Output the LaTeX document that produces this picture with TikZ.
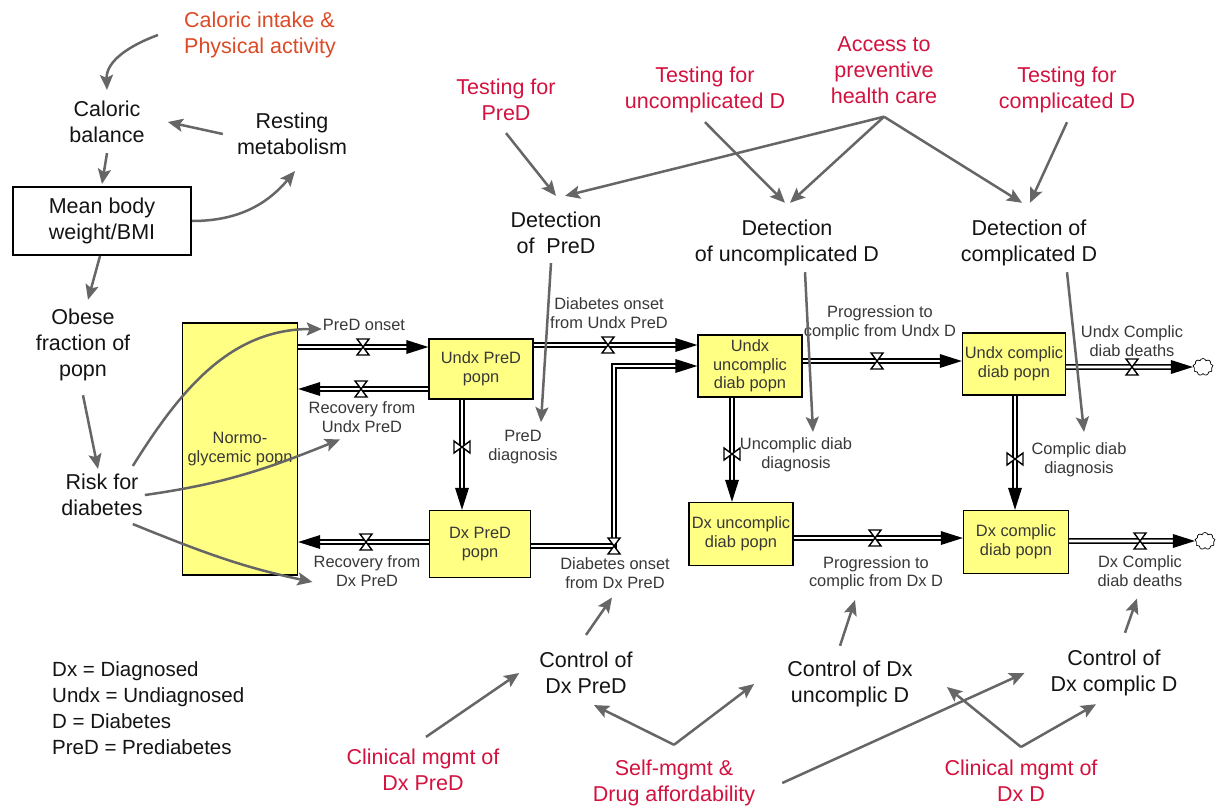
\documentclass[tikz,border=0pt]{standalone}
\usepackage{fontspec}
\setmainfont{Liberation Sans}
\usetikzlibrary{
    arrows.meta,
    decorations.markings,
    shapes.symbols
}
\definecolor{linkgray}{HTML}{666666}
\definecolor{stockfill}{HTML}{FFFF84}
\definecolor{polred}{HTML}{D4123F}
\definecolor{calred}{HTML}{DC4A26}
\definecolor{txtgray}{HTML}{383838}

\tikzset{
    big/.style={font=\fontsize{21.5}{26}\selectfont, align=center, inner sep=2pt, text=black!92},
    small/.style={font=\fontsize{16.4}{18.5}\selectfont, align=center, text=txtgray, inner sep=1pt},
    policy/.style={big, text=polred},
    stock/.style={small, draw, line width=1.4pt, fill=stockfill, inner sep=0pt},
    link/.style={draw=linkgray, line width=2.5pt, -{Stealth[length=15pt,width=13pt,inset=3pt]}},
    pipe/.style={draw, double, double distance=2.6pt, line width=1.5pt, shorten >=11pt,
        postaction={decorate, decoration={markings,
            mark=at position 1 with {\fill[black, shorten >=0pt] (0,0) -- (-22,7) -- (-22,-7) -- cycle;}}}},
    valve/.pic={\filldraw[fill=white, draw=black, line width=1.4pt] (-6,8) -- (6,8) -- (-6,-8) -- (6,-8) -- cycle;},
    sink/.style={cloud, cloud puffs=9, draw, line width=0.7pt, minimum width=20pt, minimum height=17pt, inner sep=0pt}
}

\begin{document}
\begin{tikzpicture}[x=1pt, y=1pt]
    \fill[white] (0,0) rectangle (1225,-806);
    \useasboundingbox (0,0) rectangle (1225,-806);

    % body weight part
    \node[big, text=calred, align=left, anchor=west] (calin) at (182,-35) {Caloric intake \&\\Physical activity};
    \node[big] (calbal) at (107,-122) {Caloric\\balance};
    \node[big] (resting) at (292,-134) {Resting\\metabolism};
    \node[big, draw=black, line width=2pt, minimum width=178pt, minimum height=68pt] (mean) at (102,-221) {Mean body\\weight/BMI};
    \node[big] (obese) at (83,-345) {Obese\\fraction of\\popn};
    \node[big] (risk) at (102,-495) {Risk for\\diabetes};

    % stocks
    \node[stock, minimum width=115pt, minimum height=252pt] (normo) at (240,-449) {Normo-\\glycemic popn};
    \node[stock, minimum width=104pt, minimum height=60pt] (undxpre) at (481,-369) {Undx PreD\\popn};
    \node[stock, minimum width=101pt, minimum height=67pt] (dxpre) at (480,-544) {Dx PreD\\popn};
    \node[stock, minimum width=104pt, minimum height=62pt] (undxun) at (750,-366) {Undx\\uncomplic\\diab popn};
    \node[stock, minimum width=103pt, minimum height=62pt] (undxco) at (1014,-364) {Undx complic\\diab popn};
    \node[stock, minimum width=104pt, minimum height=63pt] (dxun) at (741,-534) {Dx uncomplic\\diab popn};
    \node[stock, minimum width=105pt, minimum height=63pt] (dxco) at (1016,-542) {Dx complic\\diab popn};
    \node[sink] (sinkun) at (1203,-367) {};
    \node[sink] (sinkdx) at (1205,-541) {};

    % flow labels
    \node[small] (onsetlbl) at (364,-325) {PreD onset};
    \node[small] (recUlbl) at (362,-417) {Recovery from\\Undx PreD};
    \node[small] (recDlbl) at (367,-571) {Recovery from\\Dx PreD};
    \node[small] (pdiag) at (523,-447) {PreD\\diagnosis};
    \node[small] (onsetUlbl) at (609,-313) {Diabetes onset\\from Undx PreD};
    \node[small] (onsetDxlbl) at (615,-573) {Diabetes onset\\from Dx PreD};
    \node[small] (progUlbl) at (880,-323) {Progression to\\complic from Undx D};
    \node[small] (ucdiag) at (796,-455) {Uncomplic diab\\diagnosis};
    \node[small] (cdiag) at (1079,-460) {Complic diab\\diagnosis};
    \node[small] (undxdeath) at (1132,-341) {Undx Complic\\diab deaths};
    \node[small] (progDxlbl) at (876,-573) {Progression to\\complic from Dx D};
    \node[small] (dxdeath) at (1140,-571) {Dx Complic\\diab deaths};

    % detection part
    \node[policy] (tpre) at (506,-100) {Testing for\\PreD};
    \node[policy] (tun) at (705,-90) {Testing for\\uncomplicated D};
    \node[policy] (access) at (884,-70) {Access to\\preventive\\health care};
    \node[policy] (tco) at (1067,-90) {Testing for\\complicated D};
    \node[big] (detpre) at (556,-233) {Detection\\of\ \ PreD};
    \node[big] (detun) at (787,-243) {Detection\\of uncomplicated D};
    \node[big] (detco) at (1029,-243) {Detection of\\complicated D};

    % control part
    \node[big] (ctlpre) at (586,-673) {Control of\\Dx PreD};
    \node[big] (ctlun) at (850,-684) {Control of Dx\\uncomplic D};
    \node[big] (ctlco) at (1114,-673) {Control of\\Dx complic D};
    \node[policy] (clinpre) at (423,-770) {Clinical mgmt of\\Dx PreD};
    \node[policy] (self) at (674,-783) {Self-mgmt \&\\Drug affordability};
    \node[policy] (clinD) at (1021,-781) {Clinical mgmt of\\Dx D};

    \node[big, font=\fontsize{20.5}{25.8}\selectfont, align=left, anchor=west] (key) at (50,-708)
        {Dx = Diagnosed\\Undx = Undiagnosed\\D = Diabetes\\PreD = Prediabetes};

    % valves
    \coordinate (vOn) at (363,-347);
    \coordinate (vRecU) at (361,-389);
    \coordinate (vRecD) at (366,-542);
    \coordinate (vPd) at (462,-447);
    \coordinate (vOnU) at (608,-345);
    \coordinate (vOnDx) at (614,-546);
    \coordinate (bendDx) at (614,-366);
    \coordinate (vProgU) at (877,-361);
    \coordinate (vDeathU) at (1132,-367);
    \coordinate (vUcd) at (732,-454);
    \coordinate (vCd) at (1015,-459);
    \coordinate (vProgDx) at (875,-538);
    \coordinate (vDeathDx) at (1140,-541);

    % flows
    \draw[pipe] (normo.east |- vOn) -- (undxpre.west |- vOn);
    \draw[pipe] (undxpre.west |- vRecU) -- (normo.east |- vRecU);
    \draw[pipe] (dxpre.west |- vRecD) -- (normo.east |- vRecD);
    \draw[pipe] (undxpre.south -| vPd) -- (dxpre.north -| vPd);
    \draw[pipe] (undxpre.east |- vOnU) -- (undxun.west |- vOnU);
    \draw[pipe] (dxpre.east |- vOnDx) -- (vOnDx) -- (bendDx) -- (undxun.west |- bendDx);
    \draw[pipe] (undxun.east |- vProgU) -- (undxco.west |- vProgU);
    \draw[pipe] (undxco.east |- vDeathU) -- (sinkun.west);
    \draw[pipe] (undxun.south -| vUcd) -- (dxun.north -| vUcd);
    \draw[pipe] (undxco.south -| vCd) -- (dxco.north -| vCd);
    \draw[pipe] (dxun.east |- vProgDx) -- (dxco.west |- vProgDx);
    \draw[pipe] (dxco.east |- vDeathDx) -- (sinkdx.west);

    \foreach \v in {vOn, vRecU, vRecD, vOnU, vOnDx, vProgU, vDeathU, vProgDx, vDeathDx}
        \pic at (\v) {valve};
    \foreach \v in {vPd, vUcd, vCd}
        \pic[rotate=90] at (\v) {valve};

    % links
    \draw[link] ([xshift=-24pt]calin.west) to[out=200, in=92] ([yshift=9pt]calbal.north);
    \draw[link] ([xshift=-12pt]resting.west) -- ([xshift=21pt]calbal.east);
    \draw[link] ([yshift=-8pt]calbal.south) -- ([yshift=2pt]mean.north);
    \draw[link] (mean.east) to[out=0, in=-130] ([shift={(3pt,-14pt)}]resting.south);
    \draw[link] ([xshift=-2pt]mean.south) -- ([shift={(5pt,7pt)}]obese.north);
    \draw[link] ([yshift=-12pt]obese.south) -- ([shift={(-4pt,3pt)}]risk.north);
    \draw[link] ([shift={(-12pt,6pt)}]risk.north east) to[out=58, in=180] ([yshift=-4pt]onsetlbl.west);
    \draw[link] (risk.east) to[out=8, in=202] ([shift={(-22pt,-6pt)}]recUlbl.south);
    \draw[link] ([shift={(-12pt,-6pt)}]risk.south east) to[out=-22, in=168] ([yshift=-11pt]recDlbl.west);

    \draw[link] ([yshift=-10pt]tpre.south) -- ([yshift=14pt]detpre.north);
    \draw[link] ([yshift=-11pt]access.south) -- ([shift={(9pt,14pt)}]detpre.north);
    \draw[link] ([yshift=-7pt]tun.south) -- ([shift={(-2pt,15pt)}]detun.north);
    \draw[link] ([yshift=-11pt]access.south) -- ([shift={(3pt,15pt)}]detun.north);
    \draw[link] ([yshift=-11pt]access.south) -- ([shift={(-7pt,15pt)}]detco.north);
    \draw[link] ([yshift=-7pt]tco.south) -- ([shift={(1pt,15pt)}]detco.north);
    \draw[link] ([shift={(-5pt,-7pt)}]detpre.south) -- ([shift={(18pt,7pt)}]pdiag.north);
    \draw[link] ([shift={(18pt,-4pt)}]detun.south) -- ([shift={(17pt,5pt)}]ucdiag.north);
    \draw[link] ([shift={(38pt,-4pt)}]detco.south) -- ([shift={(5pt,10pt)}]cdiag.north);

    \draw[link] ([yshift=15pt]ctlpre.north) -- ([shift={(-3pt,-8pt)}]onsetDxlbl.south);
    \draw[link] ([shift={(-10pt,13pt)}]ctlun.north) -- ([shift={(-21pt,-9pt)}]progDxlbl.south);
    \draw[link] ([shift={(11pt,15pt)}]ctlco.north) -- ([shift={(-3pt,-11pt)}]dxdeath.south);
    \draw[link] ([shift={(3pt,10pt)}]clinpre.north) -- ([xshift=-18pt]ctlpre.west);
    \draw[link] ([yshift=13pt]self.north) -- ([shift={(8pt,-9pt)}]ctlpre.south);
    \draw[link] ([yshift=13pt]self.north) -- ([xshift=-31pt]ctlun.west);
    \draw[link] ([xshift=25pt]self.east) -- ([xshift=-24pt]ctlco.west);
    \draw[link] ([yshift=11pt]clinD.north) -- ([shift={(32pt,-3pt)}]ctlun.east);
    \draw[link] ([yshift=11pt]clinD.north) -- ([shift={(-18pt,-6pt)}]ctlco.south);
\end{tikzpicture}
\end{document}
